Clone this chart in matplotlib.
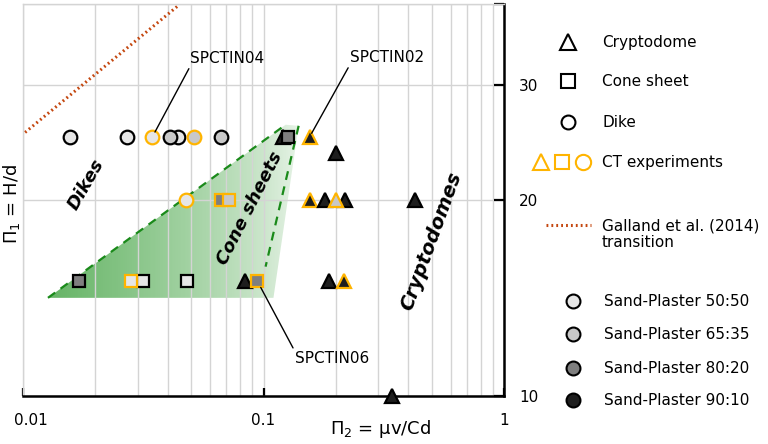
import numpy as np
import matplotlib
matplotlib.use("Agg")
import matplotlib.pyplot as plt
import matplotlib.transforms as mtransforms
from matplotlib.patches import Polygon
from matplotlib.ticker import LogLocator, NullLocator

# experiments, in drawing order
pi2 = [0.0157, 0.0271, 0.0345, 0.0443, 0.041, 0.0516, 0.0668,
       0.0478, 0.0668, 0.0722,
       0.12, 0.127, 0.1555, 0.2,
       0.1555, 0.181, 0.2175, 0.2, 0.4256,
       0.0171, 0.0316, 0.0282, 0.0482, 0.0834, 0.0944, 0.1866, 0.2154,
       0.341]
pi1 = [25, 25, 25, 25, 25, 25, 25,
       20, 20, 20,
       25, 25, 25, 23.6,
       20, 20, 20, 20, 20,
       15, 15, 15, 15, 15, 15, 15, 15,
       10]
kind = ["dike"] * 8 + ["cone", "cone",
        "crypto", "cone", "crypto", "crypto",
        "crypto", "crypto", "crypto", "crypto", "crypto",
        "cone", "cone", "cone", "cone", "crypto", "cone", "crypto", "crypto",
        "crypto"]
mix = ["50:50", "50:50", "50:50", "50:50", "65:35", "65:35", "65:35",
       "50:50", "80:20", "65:35",
       "90:10", "80:20", "90:10", "90:10",
       "90:10", "90:10", "90:10", "65:35", "90:10",
       "80:20", "50:50", "50:50", "50:50", "90:10", "80:20", "90:10", "90:10",
       "90:10"]
ct = [False, False, True, False, False, True, False,
      True, True, True,
      False, False, True, False,
      True, False, False, True, False,
      False, False, True, False, False, True, False, True,
      False]

# cone sheet field and Galland et al. (2014) transition
zone_x = [0.0127, 0.1236, 0.14, 0.11]
zone_y = [14.15, 26.1, 26.0, 14.15]
outer_x, outer_y = [0.0127, 0.1236], [14.15, 26.1]
inner_x, inner_y = [0.14, 0.102], [26.0, 15.8]
galland_x, galland_y = [0.0102, 0.0443], [25.4, 39.8]

mix_colors = {"50:50": "#e6e6e6", "65:35": "#c8c8c8",
              "80:20": "#7f7f7f", "90:10": "#1e1e1e"}
markers = {"crypto": "^", "cone": "s", "dike": "o"}
msizes = {"crypto": 10.5, "cone": 9, "dike": 9.8}
CT_COLOR = "#ffb400"
GRID = "#d4d4d4"
GREEN = "#1a8a1a"
ORANGE = "#c4470f"

plt.rcParams["font.family"] = "DejaVu Sans"
plt.rcParams["font.size"] = 11

W, H = 768, 444
fig = plt.figure(figsize=(W / 100, H / 100), dpi=100)
ax = fig.add_axes([23 / W, 1 - 396 / H, (504 - 23) / W, (396 - 4) / H])

# gradient fill of cone sheet field
t = np.linspace(0, 1, 400)
rgba = np.zeros((1, t.size, 4))
rgba[..., 0] = 0.22
rgba[..., 1] = 0.62
rgba[..., 2] = 0.22
rgba[..., 3] = 0.04 + 0.74 * (1 - t) ** 0.7
im = ax.imshow(rgba, extent=[(45 - 23) / 481, (310 - 23) / 481, 0.001, 1],
               transform=ax.transAxes, aspect="auto", zorder=1,
               interpolation="bilinear")
poly = Polygon(np.column_stack([zone_x, zone_y]), closed=True,
               facecolor="none", edgecolor="none", transform=ax.transData)
ax.add_patch(poly)
im.set_clip_path(poly)

ax.set_xscale("log")
ax.set_yscale("log")
ax.set_xlim(0.01, 1)
ax.set_ylim(10, 40)

ax.plot(outer_x, outer_y, color=GREEN, lw=1.6, ls=(0, (4, 3)), zorder=2)
ax.plot(inner_x, inner_y, color=GREEN, lw=1.6, ls=(0, (4, 3)), zorder=2)
ax.plot(galland_x, galland_y, color=ORANGE, lw=2.2, ls=(0, (0.6, 1.0)),
        zorder=2)

for x, y, k, m, c in zip(pi2, pi1, kind, mix, ct):
    ax.plot(x, y, marker=markers[k], ms=msizes[k], mfc=mix_colors[m],
            mec=CT_COLOR if c else "black", mew=1.6, ls="none", zorder=3,
            clip_on=False)

# axes style
ax.xaxis.set_minor_locator(LogLocator(base=10, subs=np.arange(2, 10)))
ax.set_xticks([0.01, 0.1, 1])
ax.set_xticklabels(["0.01", "0.1", "1"])
ax.yaxis.set_minor_locator(NullLocator())
ax.set_yticks([10, 20, 30, 40])
ax.set_yticklabels(["10", "20", "30", ""])
ax.grid(True, which="both", axis="x", color=GRID, lw=1, zorder=1.5)
ax.grid(True, which="major", axis="y", color=GRID, lw=1, zorder=1.5)
ax.tick_params(axis="x", which="major", direction="in", length=6, width=1.6,
               pad=12, labelsize=11)
ax.tick_params(axis="x", which="minor", length=0)
ax.tick_params(axis="y", which="major", direction="in", length=7, width=1.6,
               left=False, right=True, labelleft=False, labelright=True,
               pad=11, labelsize=11)
first = ax.get_xticklabels()[0]
first.set_transform(first.get_transform() +
                    mtransforms.ScaledTranslation(8 / 100, 0,
                                                  fig.dpi_scale_trans))
for side in ["left", "top"]:
    ax.spines[side].set_color(GRID)
    ax.spines[side].set_linewidth(1)
for side in ["bottom", "right"]:
    ax.spines[side].set_linewidth(1.8)

# regime labels
ax.text(0.0183, 21.1, "Dikes", rotation=60, fontsize=13, fontweight="bold",
        style="italic", ha="center", va="center", zorder=4)
ax.text(0.0874, 19.4, "Cone sheets", rotation=63, fontsize=13,
        fontweight="bold", style="italic", ha="center", va="center", zorder=4)
ax.text(0.4966, 17.3, "Cryptodomes", rotation=70, fontsize=14,
        fontweight="bold", style="italic", ha="center", va="center", zorder=4)

# experiment callouts
ax.annotate("SPCTIN04", xy=(0.0345, 25), xytext=(0.0708, 33.0),
            ha="center", va="center", zorder=4,
            arrowprops=dict(arrowstyle="-", color="black", lw=1,
                            relpos=(0, 0), shrinkA=0, shrinkB=4))
ax.annotate("SPCTIN02", xy=(0.1555, 25), xytext=(0.3255, 33.1),
            ha="center", va="center", zorder=4,
            arrowprops=dict(arrowstyle="-", color="black", lw=1,
                            relpos=(0, 0), shrinkA=0, shrinkB=3))
ax.annotate("SPCTIN06", xy=(0.0944, 15), xytext=(0.192, 11.43),
            ha="center", va="center", zorder=4,
            arrowprops=dict(arrowstyle="-", color="black", lw=1,
                            relpos=(0, 1), shrinkA=0, shrinkB=5))

fig.text(12 / W, 1 - 204 / H, "Π$_1$ = H/d", rotation=90, ha="center",
         va="center", fontsize=13)
fig.text(381 / W, 1 - 429 / H, "Π$_2$ = μv/Cd", ha="center", va="center",
         fontsize=13)

# legend, drawn in pixel space on the right
lax = fig.add_axes([0, 0, 1, 1], zorder=5)
lax.set_xlim(0, W)
lax.set_ylim(H, 0)
lax.axis("off")
lax.patch.set_alpha(0)

shape_entries = [("^", "Cryptodome", 42, 11), ("s", "Cone sheet", 81, 9.5),
                 ("o", "Dike", 122, 10)]
for mk, label, yy, ms in shape_entries:
    lax.plot(568, yy, marker=mk, ms=ms, mfc="white", mec="black", mew=1.5)
    lax.text(602, yy, label, va="center", ha="left")
for mk, xx, ms in [("^", 541, 11), ("s", 562, 9.5), ("o", 583, 11)]:
    lax.plot(xx, 162, marker=mk, ms=ms, mfc="white", mec=CT_COLOR, mew=1.5)
lax.text(602, 162, "CT experiments", va="center", ha="left")
lax.plot([546, 591], [225, 225], color=ORANGE, lw=2.2, ls=(0, (0.6, 1.0)))
lax.text(602, 234, "Galland et al. (2014)\ntransition", va="center",
         ha="left", linespacing=1.1)
for yy, m in zip([301, 334, 368, 400], ["50:50", "65:35", "80:20", "90:10"]):
    lax.plot(573, yy, marker="o", ms=10, mfc=mix_colors[m], mec="black",
             mew=1.5)
    lax.text(604, yy, "Sand-Plaster " + m, va="center", ha="left")

fig.savefig("out.png", dpi=100)
